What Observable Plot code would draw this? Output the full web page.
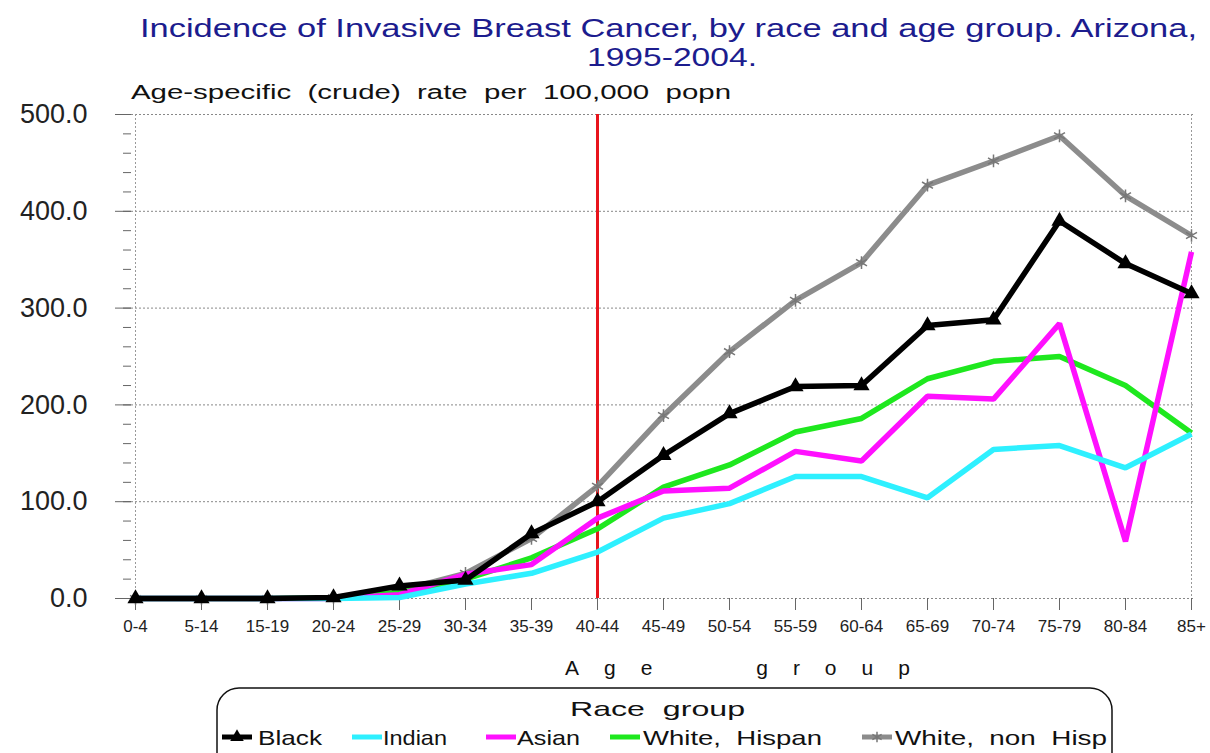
<!DOCTYPE html>
<html>
<head>
<meta charset="utf-8">
<script src="https://cdn.jsdelivr.net/npm/d3@7"></script>
<script src="https://cdn.jsdelivr.net/npm/@observablehq/plot@0.6"></script>
<style>
  html, body { margin: 0; padding: 0; background: #fff; }
  #wrap { position: relative; width: 1210px; height: 753px; overflow: hidden; font-family: "Liberation Sans", Arial, sans-serif; }
  #wrap > svg { position: absolute; left: 0; top: 0; }
</style>
</head>
<body>
<div id="wrap"></div>
<script>
// ---------- data ----------
const ageGroups = ["0-4","5-14","15-19","20-24","25-29","30-34","35-39","40-44","45-49","50-54","55-59","60-64","65-69","70-74","75-79","80-84","85+"];
const black        = [0,0,0,1,13,19,67,100,148,191,219,220,282,288,390,346,315];
const indian       = [0,0,0,0,1,15,26,48,83,98,126,126,104,154,158,135,170];
const asian        = [0,0,0,0,4,25,35,83,111,114,152,142,209,206,284,59,358];
const whiteHispan  = [0,0,0,1,6,20,42,72,115,138,172,186,227,245,250,220,171];
const whiteNonHisp = [0,0,0,1,8,26,62,116,189,255,308,347,427,452,478,416,375];
const raceNames  = ["Black","Indian","Asian","White,  Hispan","White,  non  Hisp"];
const raceColors = ["#000000","#2ef0ff","#ff10ff","#1ee81e","#8c8c8c"];
const yTicks = [0,100,200,300,400,500];
const markerAge = "40-44";

const titleLines = ["Incidence of Invasive Breast Cancer, by race and age group. Arizona,", "1995-2004."];
const subtitle = "Age-specific  (crude)  rate  per  100,000  popn";
const xLabel = "Age group";
const legendTitle = "Race  group";

// ---------- table ----------
const seriesValues = [black, indian, asian, whiteHispan, whiteNonHisp];
const rowsFor = (k) => ageGroups.map((a, i) => ({age: a, race: raceNames[k], value: seriesValues[k][i]}));
const rBlack = rowsFor(0), rIndian = rowsFor(1), rAsian = rowsFor(2), rWH = rowsFor(3), rWNH = rowsFor(4);

const lineOpts = {x: "age", y: "value", stroke: "race", strokeWidth: 5.5, strokeLinejoin: "miter", strokeLinecap: "butt"};

const chart = Plot.plot({
  width: 1210, height: 753,
  marginTop: 114, marginBottom: 155, marginLeft: 131, marginRight: 16,
  x: {type: "point", domain: ageGroups, padding: 0},
  y: {domain: [0, 500]},
  color: {domain: raceNames, range: raceColors},
  style: {fontFamily: "'Liberation Sans', Arial, sans-serif", background: "transparent", color: "#222", overflow: "visible"},
  marks: [
    Plot.gridY(yTicks, {stroke: "#888", strokeOpacity: 1, strokeDasharray: "2,2"}),
    Plot.ruleX([ageGroups[0], ageGroups[ageGroups.length - 1]], {stroke: "#999", strokeDasharray: "2,2"}),
    Plot.axisY({ticks: 25, tickSize: 8, tickFormat: () => "", label: null, stroke: "#666"}),
    Plot.axisY({ticks: yTicks, tickSize: 16, tickPadding: 28, tickFormat: d => d.toFixed(1), fontSize: 27, label: null, stroke: "#666"}),
    Plot.axisX({tickSize: 12, tickPadding: 9, fontSize: 17, label: null, stroke: "#666"}),
    Plot.ruleX([markerAge], {stroke: "#e8141c", strokeWidth: 3}),
    Plot.line(rWNH, lineOpts),
    Plot.dot(rWNH, {x: "age", y: "value", symbol: "asterisk", r: 6, stroke: "#777", strokeWidth: 1.5}),
    Plot.line(rWH, lineOpts),
    Plot.line(rAsian, lineOpts),
    Plot.line(rIndian, lineOpts),
    Plot.line(rBlack, lineOpts),
    Plot.dot(rBlack, {x: "age", y: "value", symbol: "triangle", r: 6, fill: "#000"})
  ]
});
const wrap = document.getElementById("wrap");
wrap.appendChild(chart);

// ---------- overlay texts & legend ----------
const ov = d3.select(wrap).append("svg").attr("width", 1210).attr("height", 753)
  .style("font-family", "'Liberation Sans', Arial, sans-serif");

ov.append("text").attr("x", 140).attr("y", 37).attr("font-size", 25).attr("fill", "#1c1c8e")
  .attr("textLength", 1057).attr("lengthAdjust", "spacingAndGlyphs").text(titleLines[0]);
ov.append("text").attr("x", 587).attr("y", 66).attr("font-size", 25).attr("fill", "#1c1c8e")
  .attr("textLength", 170).attr("lengthAdjust", "spacingAndGlyphs").text(titleLines[1]);

ov.append("text").attr("x", 131).attr("y", 99).attr("font-size", 20).attr("fill", "#111")
  .style("white-space", "pre").attr("textLength", 600).attr("lengthAdjust", "spacingAndGlyphs").text(subtitle);

ov.append("text").attr("x", 565).attr("y", 675).attr("font-size", 21).attr("fill", "#111")
  .style("letter-spacing", "25px").style("word-spacing", "48px").text(xLabel);

// legend box
ov.append("rect").attr("x", 217).attr("y", 688).attr("width", 895).attr("height", 110).attr("rx", 22)
  .attr("fill", "none").attr("stroke", "#111").attr("stroke-width", 1.5);
ov.append("text").attr("x", 570).attr("y", 716).attr("font-size", 21).attr("fill", "#111")
  .style("white-space", "pre").attr("textLength", 175).attr("lengthAdjust", "spacingAndGlyphs").text(legendTitle);

const legendItems = [
  {sw: 222, tx: 258, w: 64},
  {sw: 352, tx: 383, w: 64},
  {sw: 486, tx: 517, w: 63},
  {sw: 610, tx: 643, w: 179},
  {sw: 862, tx: 895, w: 212}
];
legendItems.forEach((it, k) => {
  const g = ov.append("g");
  g.append("line").attr("x1", it.sw).attr("x2", it.sw + 30).attr("y1", 737).attr("y2", 737)
    .attr("stroke", raceColors[k]).attr("stroke-width", 5);
  if (k === 0) {
    g.append("path").attr("d", d3.symbol(d3.symbolTriangle, 80)()).attr("transform", `translate(${it.sw + 15},737)`).attr("fill", "#000");
  }
  if (k === 4) {
    g.append("path").attr("d", d3.symbol(d3.symbolAsterisk, 80)()).attr("transform", `translate(${it.sw + 15},737)`)
      .attr("stroke", "#777").attr("stroke-width", 1.5).attr("fill", "none");
  }
  g.append("text").attr("x", it.tx).attr("y", 745).attr("font-size", 21).attr("fill", "#111")
    .style("white-space", "pre").attr("textLength", it.w).attr("lengthAdjust", "spacingAndGlyphs").text(raceNames[k]);
});
</script>
</body>
</html>
